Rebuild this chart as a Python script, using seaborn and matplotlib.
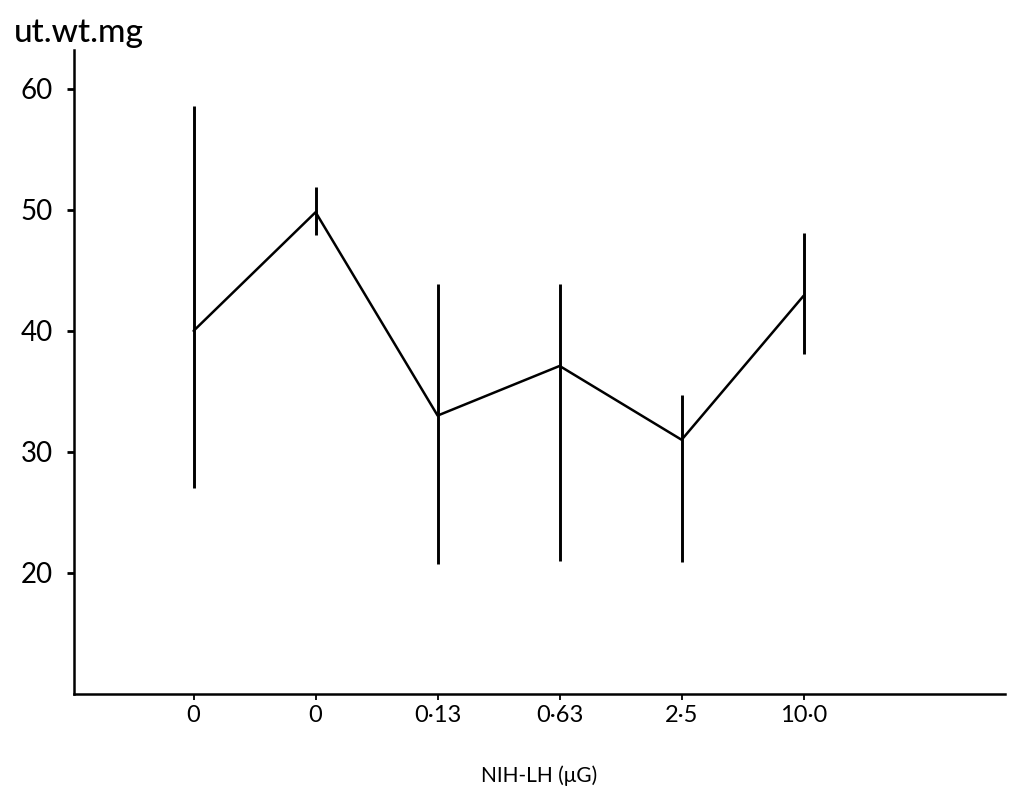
import numpy as np
import pandas as pd
import matplotlib
matplotlib.use("Agg")
import matplotlib.pyplot as plt
import seaborn as sns

# Dose groups (NIH-LH, ug) and uterine weight (mg)
dose_labels = ["0", "0", "0·13", "0·63", "2·5", "10·0"]
mean_wt = [40.0, 49.8, 33.0, 37.1, 31.0, 42.9]
low_wt = [27.0, 47.9, 20.7, 21.0, 20.9, 38.1]
high_wt = [58.6, 51.9, 43.9, 43.9, 34.7, 48.1]
y_ticks = [20, 30, 40, 50, 60]

df = pd.DataFrame({
    "pos": np.arange(len(dose_labels)),
    "mean": mean_wt,
    "low": low_wt,
    "high": high_wt,
})

sns.set_theme(style="ticks")
plt.rcParams["font.family"] = ["Lato", "DejaVu Sans"]

fig = plt.figure(figsize=(10.1, 7.97), dpi=100)
ax = fig.add_axes([0.0733, 0.1292, 0.9217, 0.8081])

# mean line
sns.lineplot(data=df, x="pos", y="mean", color="black", linewidth=1.8, ax=ax)

# range bars
ax.vlines(df["pos"], df["low"], df["high"], color="black", linewidth=2.1)

ax.set_xlim(-0.98, 6.65)
ax.set_ylim(10, 63.2)
ax.set_xticks(df["pos"])
ax.set_xticklabels(dose_labels)
ax.set_yticks(y_ticks)
ax.tick_params(axis="y", length=5, width=2, pad=10, labelsize=20, colors="black")
ax.tick_params(axis="x", length=4, width=1.3, pad=4, labelsize=17, colors="black")

for side in ["top", "right"]:
    ax.spines[side].set_visible(False)
for side in ["left", "bottom"]:
    ax.spines[side].set_linewidth(1.8)
    ax.spines[side].set_color("black")

ax.set_xlabel("NIH-LH (μG)", fontsize=15, labelpad=28, color="black")
ax.set_ylabel("")
fig.text(0.014, 0.958, "ut.wt.mg", fontsize=24, fontweight="medium",
         color="black", ha="left", va="center")

fig.savefig("out.png", dpi=100)
